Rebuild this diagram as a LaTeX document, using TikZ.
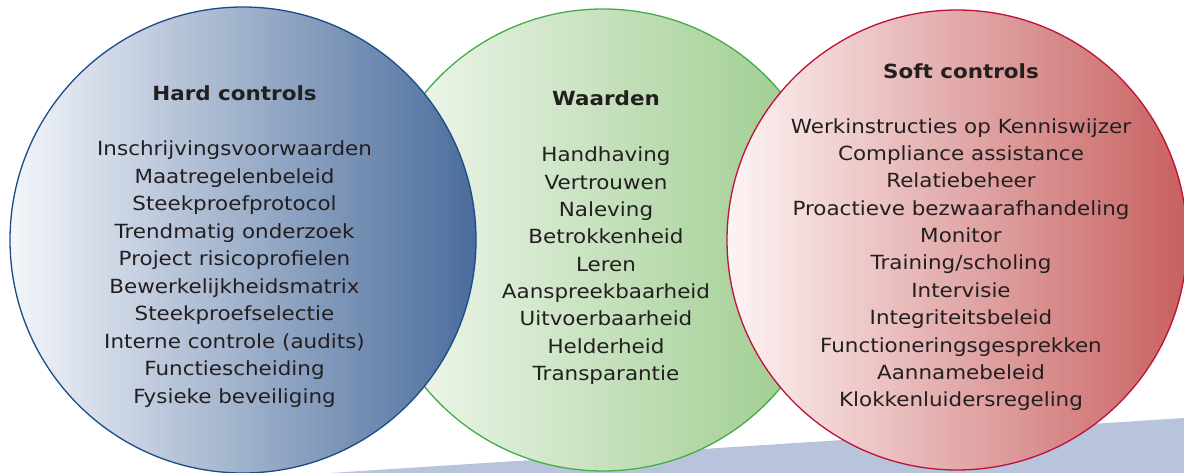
\documentclass[tikz,border=0pt]{standalone}
\usepackage{fontspec}
\setmainfont{DejaVu Sans}[FakeStretch=1.1]
\definecolor{txt}{HTML}{231F20}
\definecolor{bandc}{HTML}{B8C4DC}
\definecolor{blueL}{HTML}{F4F6FA}
\definecolor{blueR}{HTML}{4A6C9C}
\definecolor{blueB}{HTML}{1A4C88}
\definecolor{greenL}{HTML}{F5FAF3}
\definecolor{greenR}{HTML}{98C988}
\definecolor{greenB}{HTML}{45AD45}
\definecolor{redL}{HTML}{FDF4F4}
\definecolor{redR}{HTML}{C86060}
\definecolor{redB}{HTML}{C0103A}
\begin{document}
\begin{tikzpicture}[x=1pt,y=-1pt,
  ring/.style={circle, inner sep=0pt, outer sep=0pt, minimum size=#1, line width=1.3pt},
  ttl/.style={anchor=base, inner sep=0pt, text=txt, font=\fontsize{19.5}{23}\selectfont\bfseries},
  itm/.style={anchor=base, inner sep=0pt, text=txt, font=\fontsize{19.5}{23}\selectfont}]
\useasboundingbox (0,0) rectangle (1184,473);
\fill[bandc] (330,473) -- (1184,418) -- (1184,473) -- cycle;
\node[ring=462pt, draw=greenB, left color=greenL, right color=greenR] (mid) at (603,240) {};
\node[ring=466pt, draw=blueB, left color=blueL, right color=blueR] (lft) at (243,240) {};
\node[ring=460pt, draw=redB, left color=redL, right color=redR] (rgt) at (957,240) {};
\node[ttl] (hct) at (234.5,100.7) {Hard controls};
\foreach \t [count=\i] in {Inschrijvingsvoorwaarden, Maatregelenbeleid, Steekproefprotocol, Trendmatig onderzoek, Project risicoprofielen, Bewerkelijkheidsmatrix, Steekproefselectie, Interne controle (audits), Functiescheiding, Fysieke beveiliging}
  \node[itm] (hc\i) at (234.5,{155.7+(\i-1)*27.5}) {\t};
\node[ttl] (wt) at (606,106) {Waarden};
\foreach \t [count=\i] in {Handhaving, Vertrouwen, Naleving, Betrokkenheid, Leren, Aanspreekbaarheid, Uitvoerbaarheid, Helderheid, Transparantie}
  \node[itm] (w\i) at (606,{161.7+(\i-1)*27.35}) {\t};
\node[ttl] (sct) at (961,78.3) {Soft controls};
\foreach \t [count=\i] in {Werkinstructies op Kenniswijzer, Compliance assistance, Relatiebeheer, Proactieve bezwaarafhandeling, Monitor, Training/scholing, Intervisie, Integriteitsbeleid, Functioneringsgesprekken, Aannamebeleid, Klokkenluidersregeling}
  \node[itm] (sc\i) at (961,{133.3+(\i-1)*27.34}) {\t};
\end{tikzpicture}
\end{document}
